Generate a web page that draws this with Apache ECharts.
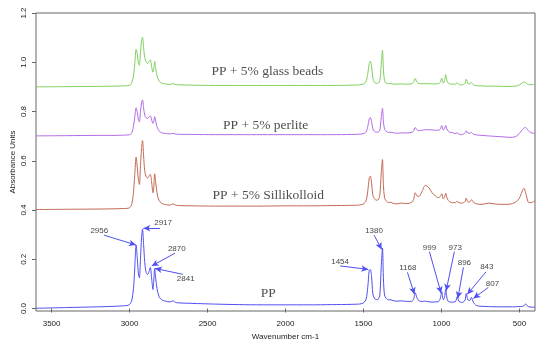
<!DOCTYPE html>
<html><head><meta charset="utf-8">
<script src="https://cdn.jsdelivr.net/npm/echarts@6/dist/echarts.min.js"></script>
<style>html,body{margin:0;padding:0;background:#fff}#c{width:550px;height:346px}</style>
</head><body><div id="c"></div>
<script>
// Wavenumbers (cm-1), shared by all four spectra
var wavenumbers = [3600,3400,3200,3100,3040,3010,2995,2985,2975,2967,2958,2950,2943,2937,2930,2923,2917,2910,2903,2895,2885,2875,2867,2858,2850,2845,2839,2832,2824,2812,2795,2770,2740,2722,2700,2600,2450,2300,2150,2000,1850,1700,1580,1510,1485,1472,1463,1456,1448,1440,1430,1418,1405,1395,1386,1378,1372,1365,1355,1340,1330,1305,1290,1256,1220,1195,1180,1168,1158,1145,1125,1103,1080,1060,1040,1020,1008,998,988,980,973,962,950,930,910,899,888,872,858,848,841,830,818,808,795,775,740,700,650,600,560,530,510,495,480,470,460,450,440,425,400];

var ppValues = [0.001,0.004,0.007,0.009,0.011,0.013,0.020,0.035,0.08,0.16,0.258,0.20,0.14,0.125,0.20,0.29,0.322,0.26,0.19,0.15,0.138,0.15,0.167,0.12,0.077,0.11,0.162,0.12,0.082,0.05,0.036,0.030,0.027,0.031,0.024,0.021,0.018,0.016,0.015,0.015,0.015,0.016,0.017,0.020,0.035,0.09,0.155,0.158,0.13,0.06,0.042,0.036,0.038,0.055,0.17,0.245,0.12,0.055,0.042,0.035,0.036,0.031,0.030,0.031,0.029,0.029,0.036,0.064,0.045,0.032,0.029,0.030,0.027,0.026,0.027,0.028,0.040,0.068,0.036,0.045,0.077,0.035,0.027,0.026,0.028,0.048,0.030,0.025,0.027,0.035,0.061,0.035,0.033,0.045,0.025,0.012,0.009,0.008,0.007,0.007,0.007,0.007,0.008,0.008,0.009,0.012,0.019,0.011,0.007,0.006,0.005];

var sillikolloidValues = [0.402,0.403,0.404,0.405,0.406,0.407,0.412,0.425,0.47,0.54,0.615,0.57,0.52,0.504,0.58,0.65,0.682,0.62,0.56,0.538,0.53,0.538,0.545,0.51,0.47,0.49,0.547,0.51,0.47,0.44,0.428,0.422,0.42,0.425,0.419,0.417,0.416,0.416,0.416,0.417,0.417,0.418,0.419,0.422,0.435,0.48,0.53,0.538,0.51,0.46,0.447,0.44,0.442,0.46,0.55,0.605,0.50,0.45,0.438,0.43,0.432,0.426,0.425,0.428,0.426,0.43,0.44,0.47,0.458,0.455,0.475,0.50,0.49,0.47,0.458,0.45,0.455,0.466,0.445,0.452,0.468,0.445,0.435,0.43,0.43,0.436,0.43,0.428,0.43,0.435,0.448,0.432,0.433,0.442,0.432,0.425,0.423,0.428,0.424,0.423,0.424,0.43,0.44,0.455,0.48,0.488,0.47,0.445,0.43,0.43,0.438];

var perliteValues = [0.701,0.702,0.703,0.703,0.704,0.705,0.707,0.715,0.74,0.775,0.815,0.795,0.765,0.758,0.80,0.835,0.847,0.815,0.785,0.775,0.772,0.778,0.782,0.765,0.752,0.76,0.779,0.76,0.738,0.722,0.714,0.711,0.709,0.711,0.708,0.707,0.706,0.706,0.706,0.706,0.706,0.706,0.707,0.709,0.716,0.74,0.77,0.775,0.76,0.73,0.72,0.716,0.717,0.725,0.775,0.813,0.76,0.728,0.72,0.715,0.716,0.713,0.712,0.713,0.713,0.715,0.72,0.735,0.726,0.722,0.724,0.726,0.726,0.725,0.724,0.724,0.728,0.743,0.725,0.73,0.743,0.725,0.717,0.714,0.71,0.714,0.708,0.706,0.709,0.713,0.722,0.712,0.712,0.715,0.708,0.705,0.703,0.701,0.699,0.697,0.695,0.697,0.705,0.715,0.727,0.733,0.735,0.728,0.72,0.714,0.71];

var glassBeadsValues = [0.900,0.901,0.902,0.903,0.904,0.905,0.908,0.918,0.945,0.99,1.052,1.03,0.995,0.988,1.04,1.088,1.101,1.06,1.02,1.005,0.995,1.003,1.01,0.98,0.96,0.972,1.003,0.975,0.945,0.925,0.915,0.912,0.91,0.913,0.909,0.907,0.906,0.906,0.906,0.906,0.906,0.906,0.907,0.91,0.92,0.955,0.995,1.004,0.985,0.935,0.918,0.914,0.915,0.925,0.99,1.048,0.97,0.925,0.916,0.913,0.914,0.911,0.911,0.912,0.911,0.912,0.918,0.934,0.92,0.914,0.913,0.913,0.913,0.912,0.912,0.913,0.918,0.936,0.915,0.925,0.95,0.92,0.913,0.911,0.911,0.917,0.91,0.908,0.91,0.915,0.931,0.913,0.912,0.918,0.908,0.905,0.904,0.903,0.903,0.902,0.902,0.903,0.905,0.91,0.917,0.92,0.918,0.912,0.909,0.909,0.91];

// Spectrum names and where their names sit (wavenumber, absorbance)
var seriesNames = ['PP', 'PP + 5% Sillikolloid', 'PP + 5% perlite', 'PP + 5% glass beads'];
var nameX = [2110, 2110, 2127, 2116];
var nameY = [0.062, 0.458, 0.745, 0.961];

// Peak annotations of the PP spectrum
var annoText = ['2956','2917','2870','2841','1454','1380','1168','999','973','896','843','807'];
var annoLabelX = [3194,2785,2697,2640,1650,1432,1216,1077,912,853,709,673];
var annoLabelY = [0.315,0.349,0.244,0.120,0.190,0.316,0.167,0.248,0.248,0.186,0.170,0.099];
var annoTailX = [3164,2805,2708,2659,1650,1432,1218,1077,917,859,714,699];
var annoTailY = [0.298,0.326,0.225,0.139,0.173,0.298,0.147,0.231,0.231,0.167,0.149,0.086];
var annoHeadX = [2959,2912,2858,2837,1469,1383,1173,1002,970,895,834,795];
var annoHeadY = [0.258,0.326,0.173,0.163,0.159,0.240,0.058,0.062,0.072,0.041,0.058,0.041];

var xTicks = [500,1000,1500,2000,2500,3000,3500];
var yTicks = [0,0.2,0.4,0.6,0.8,1.0,1.2];

function pairs(xs, ys){ return xs.map(function(x,i){ return [x, ys[i]]; }); }

var colors = ['#4f4ff2', '#c46a55', '#b36ae6', '#80d060'];
var spectra = [ppValues, sillikolloidValues, perliteValues, glassBeadsValues];

var series = spectra.map(function(vals, k){
  return {
    type: 'line', name: seriesNames[k], data: pairs(wavenumbers, vals),
    showSymbol: false, smooth: 0.3, lineStyle: {color: colors[k], width: 1},
    silent: true, z: 2
  };
});

// arrows + annotation labels
series.push({
  type: 'scatter', symbolSize: 0, silent: true, z: 5,
  data: annoText.map(function(t,i){ return {value:[annoLabelX[i], annoLabelY[i]], name:t}; }),
  label: {show: true, position: 'inside', formatter: '{b}', fontFamily: 'Liberation Sans, Arial, sans-serif', fontSize: 8, color: '#111'},
  markLine: {
    silent: true, animation: false, symbol: ['none','arrow'], symbolSize: [5, 7],
    label: {show: false},
    lineStyle: {color: '#4f4ff2', width: 1, type: 'solid'},
    data: annoText.map(function(t,i){
      return [{coord:[annoTailX[i], annoTailY[i]]}, {coord:[annoHeadX[i], annoHeadY[i]]}];
    })
  }
});

// spectrum names
series.push({
  type: 'scatter', symbolSize: 0, silent: true, z: 5,
  data: seriesNames.map(function(n,i){ return {value:[nameX[i], nameY[i]], name:n}; }),
  label: {show: true, position: 'inside', formatter: '{b}', fontFamily: '"Liberation Serif", "Times New Roman", serif', fontSize: 13.5, color: '#222'}
});

var chart = echarts.init(document.getElementById('c'), null, {renderer: 'canvas'});
chart.setOption({
  animation: false,
  backgroundColor: '#fff',
  grid: {left: 36, right: 15, top: 13, bottom: 35, show: true, borderColor: '#666', borderWidth: 1, backgroundColor: 'transparent',
    containLabel: false, outerBoundsMode: 'none'},
  xAxis: {
    type: 'value', inverse: true, min: 400, max: 3600,
    name: 'Wavenumber cm-1', nameLocation: 'middle', nameGap: 22, nameMoveOverlap: false,
    nameTextStyle: {fontFamily: 'Liberation Sans, Arial, sans-serif', fontSize: 8, color: '#222'},
    axisLine: {show: false}, splitLine: {show: false},
    axisTick: {show: true, length: 4, lineStyle: {color: '#666'}, customValues: xTicks},
    axisLabel: {customValues: xTicks, fontFamily: 'Liberation Sans, Arial, sans-serif', fontSize: 8, color: '#222', margin: 9,
      formatter: function(v){ return String(v); }}
  },
  yAxis: {
    type: 'value', min: -0.01, max: 1.2,
    name: 'Absorbance Units', nameLocation: 'middle', nameGap: 19, nameRotate: 90, nameMoveOverlap: false,
    nameTextStyle: {fontFamily: 'Liberation Sans, Arial, sans-serif', fontSize: 8, color: '#222'},
    axisLine: {show: false}, splitLine: {show: false},
    axisTick: {show: true, length: 4, lineStyle: {color: '#666'}, customValues: yTicks},
    axisLabel: {customValues: yTicks, rotate: 90, fontFamily: 'Liberation Sans, Arial, sans-serif', fontSize: 8, color: '#222', margin: 8,
      formatter: function(v){ return v.toFixed(1); }}
  },
  series: series
});
</script>
</body></html>
